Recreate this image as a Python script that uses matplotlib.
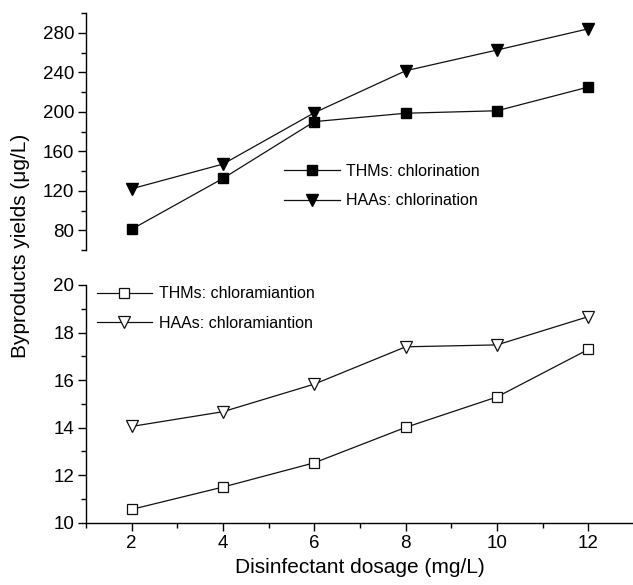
import matplotlib
matplotlib.use('Agg')
import matplotlib.pyplot as plt
from matplotlib.ticker import MultipleLocator

plt.rcParams['font.family'] = ['Liberation Sans', 'DejaVu Sans']

# 消毒剂投加量 (mg/L)
dosage = [2, 4, 6, 8, 10, 12]

# 氯化
thms_chlorination = [81, 132.5, 190, 198.5, 201, 225]
haas_chlorination = [122, 147, 199, 241.5, 262.5, 284]

# 氯胺化
thms_chloramination = [10.56, 11.5, 12.52, 14.01, 15.29, 17.29]
haas_chloramination = [14.05, 14.67, 15.83, 17.4, 17.48, 18.67]

W, H = 633, 585
fig = plt.figure(figsize=(W / 100, H / 100), dpi=100)


def px_box(left, top, right, bottom):
    return [left / W, 1 - bottom / H, (right - left) / W, (bottom - top) / H]


ax_top = fig.add_axes(px_box(86, 13, 634, 250))
ax_bot = fig.add_axes(px_box(86, 285, 634, 522.7))

line_kw = dict(color='#111111', linewidth=0.9)

ax_top.plot(dosage, thms_chlorination, marker='s', markersize=6.5,
            markerfacecolor='black', markeredgecolor='black',
            label='THMs: chlorination', **line_kw)
ax_top.plot(dosage, haas_chlorination, marker='v', markersize=8,
            markerfacecolor='black', markeredgecolor='black',
            label='HAAs: chlorination', **line_kw)

ax_bot.plot(dosage, thms_chloramination, marker='s', markersize=6.5,
            markerfacecolor='white', markeredgecolor='#111111', markeredgewidth=0.9,
            label='THMs: chloramiantion', **line_kw)
ax_bot.plot(dosage, haas_chloramination, marker='v', markersize=8,
            markerfacecolor='white', markeredgecolor='#111111', markeredgewidth=0.9,
            label='HAAs: chloramiantion', **line_kw)

for ax in (ax_top, ax_bot):
    ax.set_xlim(1, 13)
    for s in ('top', 'right'):
        ax.spines[s].set_visible(False)
    ax.spines['left'].set_linewidth(1.0)
    ax.spines['bottom'].set_linewidth(1.0)
    ax.tick_params(axis='both', which='major', direction='out', length=6,
                   width=1.0, labelsize=13.5, pad=2.5)
    ax.tick_params(axis='both', which='minor', direction='out', length=3.4, width=1.0)

ax_top.set_ylim(60, 300)
ax_top.yaxis.set_major_locator(MultipleLocator(40))
ax_top.yaxis.set_minor_locator(MultipleLocator(20))
ax_top.set_yticks([80, 120, 160, 200, 240, 280])
ax_top.spines['bottom'].set_visible(False)
ax_top.tick_params(axis='x', which='both', bottom=False, labelbottom=False)

ax_bot.set_ylim(10, 20)
ax_bot.yaxis.set_major_locator(MultipleLocator(2))
ax_bot.yaxis.set_minor_locator(MultipleLocator(1))
ax_bot.xaxis.set_major_locator(MultipleLocator(2))
ax_bot.xaxis.set_minor_locator(MultipleLocator(1))
ax_bot.set_xticks([2, 4, 6, 8, 10, 12])
ax_bot.set_xlabel('Disinfectant dosage (mg/L)', fontsize=15, labelpad=5)

leg_kw = dict(frameon=False, fontsize=11.5, handlelength=3.5, handletextpad=0.4,
              labelspacing=0.9, borderpad=0, borderaxespad=0)
ax_top.legend(loc='upper left', bbox_to_anchor=(284 / W, 1 - 164 / H),
              bbox_transform=fig.transFigure, **leg_kw)
ax_bot.legend(loc='upper left', bbox_to_anchor=(96.5 / W, 1 - 286.5 / H),
              bbox_transform=fig.transFigure, **leg_kw)

fig.text(21 / W, 1 - 246 / H, 'Byproducts yields (μg/L)', rotation=90,
         ha='center', va='center', fontsize=15)

fig.savefig('out.png', dpi=100)
